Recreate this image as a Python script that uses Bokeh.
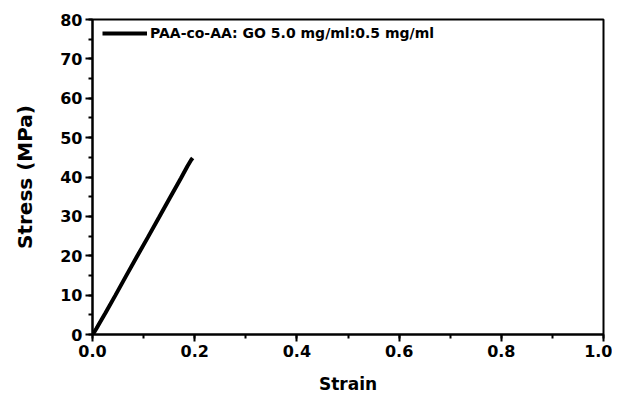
from bokeh.plotting import figure
from bokeh.models import Range1d, SingleIntervalTicker, Legend, LegendItem, PrintfTickFormatter
from bokeh.embed import file_html
from bokeh.resources import INLINE

strain = [0.0, 0.003, 0.008, 0.015, 0.025, 0.045, 0.065, 0.087, 0.108, 0.130, 0.151, 0.173, 0.186, 0.193, 0.196]
stress = [0.0, 0.5, 1.6, 3.2, 5.4, 10.0, 14.7, 19.8, 24.6, 29.7, 34.6, 39.7, 42.8, 44.3, 44.8]
series_label = "PAA-co-AA: GO 5.0 mg/ml:0.5 mg/ml"
x_title = "Strain"
y_title = "Stress (MPa)"

FONT = "DejaVu Sans"

p = figure(width=612, height=397, output_backend="svg", toolbar_location=None,
           x_range=Range1d(0, 1.0), y_range=Range1d(0, 80),
           min_border_left=92, min_border_right=9, min_border_top=19, min_border_bottom=63)
p.grid.visible = False
p.outline_line_color = "black"
p.outline_line_width = 2

r = p.line(strain, stress, line_color="black", line_width=4)

p.xaxis.ticker = SingleIntervalTicker(interval=0.2, num_minor_ticks=2)
p.yaxis.ticker = SingleIntervalTicker(interval=10, num_minor_ticks=2)
p.xaxis.formatter = PrintfTickFormatter(format="%.1f")
for ax in (p.xaxis[0], p.yaxis[0]):
    ax.axis_line_width = 2
    ax.axis_line_color = "black"
    ax.major_tick_line_width = 2
    ax.minor_tick_line_width = 2
    ax.major_tick_out = 7
    ax.major_tick_in = 0
    ax.minor_tick_out = 4
    ax.minor_tick_in = 0
    ax.major_label_text_font = FONT
    ax.major_label_text_font_style = "bold"
    ax.major_label_text_font_size = "16px"
    ax.major_label_text_color = "black"
    ax.axis_label_text_font = FONT
    ax.axis_label_text_font_style = "bold"
    ax.axis_label_text_color = "black"

p.xaxis.axis_label = x_title
p.yaxis.axis_label = y_title
p.xaxis.axis_label_text_font_size = "17px"
p.yaxis.axis_label_text_font_size = "20px"
p.xaxis.major_label_standoff = 3
p.yaxis.major_label_standoff = 3
p.xaxis.axis_label_standoff = 14
p.yaxis.axis_label_standoff = 20

legend = Legend(items=[LegendItem(label=series_label, renderers=[r])],
                location=(10, 293), border_line_color=None, background_fill_alpha=0,
                label_text_font=FONT, label_text_font_style="bold", label_text_font_size="14px",
                label_text_color="black",
                glyph_width=45, glyph_height=16, label_height=16, label_standoff=3,
                margin=0, padding=0, spacing=0)
p.add_layout(legend)

open("out.html", "w").write(file_html(p, INLINE))
